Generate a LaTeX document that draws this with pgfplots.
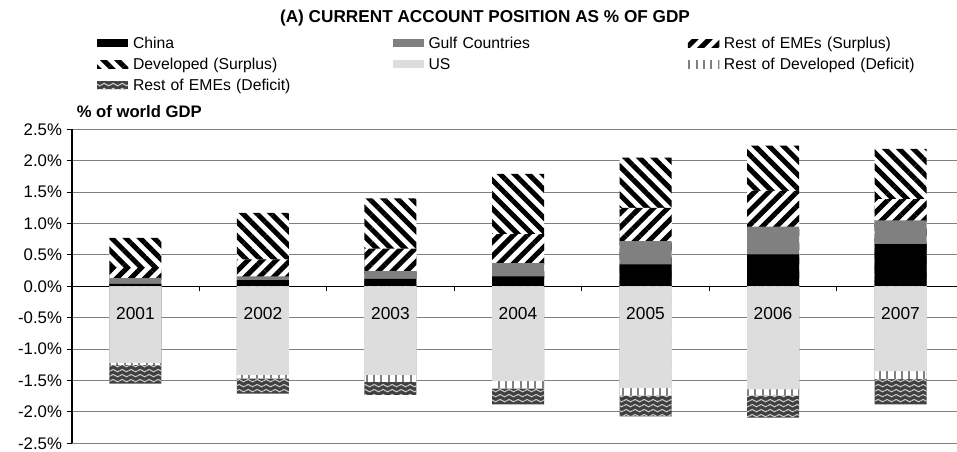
\documentclass[border=0pt]{standalone}
\usepackage{fontspec}
\setmainfont{Liberation Sans}
\usepackage{pgfplots}
\usepackage{pgfplotstable}
\pgfplotsset{compat=1.18}
\usetikzlibrary{patterns.meta}
\definecolor{gulf}{HTML}{808080}
\definecolor{usgray}{HTML}{DDDDDD}
\definecolor{emedark}{HTML}{404040}
\definecolor{emewave}{HTML}{C8C8C8}
\definecolor{gridc}{HTML}{808080}

% wavy texture for Rest of EMEs (Deficit)
\tikzdeclarepattern{
  name=wave,
  type=uncolored,
  bounding box={(0pt,-2pt) and (7pt,2pt)},
  tile size={(7pt,4pt)},
  code={
    \draw[line width=0.9pt] (0pt,0pt) sin (1.75pt,1pt) cos (3.5pt,0pt) sin (5.25pt,-1pt) cos (7pt,0pt);
  }
}

% cumulative levels (% of world GDP) read at the top / bottom of each segment, 2001..2007
\pgfplotstableread{
yr china gulf emes dev us restdev emed
0 0.04 0.13 0.29 0.77 -1.22 -1.25 -1.55
1 0.10 0.16 0.43 1.17 -1.41 -1.47 -1.71
2 0.12 0.24 0.60 1.40 -1.41 -1.52 -1.73
3 0.16 0.37 0.83 1.79 -1.51 -1.63 -1.88
4 0.35 0.72 1.25 2.05 -1.62 -1.74 -2.07
5 0.51 0.95 1.52 2.24 -1.64 -1.74 -2.09
6 0.67 1.05 1.39 2.19 -1.35 -1.48 -1.88
}\cadata

\pgfplotsset{
  sw/.style={legend image code/.code={\fill[##1] (0pt,-3.1pt) rectangle (23.5pt,3.1pt);}},
}
\tikzset{
  chinaS/.style={draw=none, fill=black},
  gulfS/.style={draw=none, fill=gulf},
  emesS/.style={draw=none, fill=white, postaction={pattern={Lines[angle=45,distance=7.5pt,line width=3.75pt]}}},
  devS/.style={draw=none, fill=white, postaction={pattern={Lines[angle=-45,distance=7.5pt,line width=3.75pt]}}},
  usS/.style={draw=none, fill=usgray},
  restdevS/.style={draw=none, fill=white, postaction={pattern={Lines[angle=90,distance=5.5pt,line width=1.5pt]}, pattern color=gulf}},
  emedS/.style={draw=none, fill=emedark, postaction={pattern=wave, pattern color=emewave}},
  yrlab/.style={font=\fontsize{13}{15}\selectfont, anchor=base, inner sep=0pt},
}

\begin{document}
\begin{tikzpicture}
\begin{axis}[
  name=ax,
  scale only axis,
  width=664pt, height=235.5pt,
  ybar, bar width=39pt, bar shift=0pt,
  xmin=-0.5, xmax=6.443,
  ymin=-2.5, ymax=2.5,
  ytick={-2.5,-2,...,2.5},
  yticklabel={\pgfmathprintnumber[fixed,fixed zerofill,precision=1]{\tick}\%},
  /pgf/number format/assume math mode=true,
  yticklabel style={font=\fontsize{12.6}{14}\selectfont},
  axis y line=left,
  axis x line=middle,
  hide obscured x ticks=false,
  hide obscured y ticks=false,
  x axis line style={-, black, line width=1pt},
  y axis line style={-, black, line width=1.3pt},
  tick align=outside,
  major tick length=3.75pt,
  tick style={black, line width=0.7pt},
  xtick={0.5,1.5,...,5.5},
  xticklabels={},
  ymajorgrids,
  grid style={gridc, line width=0.7pt},
  title={(A) CURRENT ACCOUNT POSITION AS \% OF GDP},
  every axis title/.style={at={(axis description cs:0,1)}, anchor=base, xshift=310pt, yshift=80pt,
    inner sep=0pt, font=\bfseries\fontsize{12.9}{15}\selectfont},
  ylabel={\% of world GDP},
  every axis y label/.style={at={(axis description cs:0,1)}, anchor=base west, xshift=3.6pt, yshift=9pt,
    inner sep=0pt, font=\bfseries\fontsize{12.5}{15}\selectfont},
  legend columns=3,
  legend cell align=left,
  legend style={at={(axis description cs:0,1)}, anchor=north west, xshift=19pt, yshift=70.75pt,
    draw=none, fill=none, inner sep=0pt, outer sep=0pt, row sep=3.25pt,
    /tikz/every odd column/.append style={column sep=3.5pt},
    nodes={text width=194.6pt, align=left, inner sep=0pt, text height=10pt, text depth=2.5pt,
      font=\fontsize{11.8}{14}\selectfont}},
]
\addlegendimage{sw, chinaS}\addlegendentry{China}
\addlegendimage{sw, gulfS}\addlegendentry{Gulf Countries}
\addlegendimage{sw, emesS}\addlegendentry{Rest of EMEs (Surplus)}
\addlegendimage{sw, devS}\addlegendentry{Developed (Surplus)}
\addlegendimage{sw, usS}\addlegendentry{US}
\addlegendimage{sw, restdevS}\addlegendentry{Rest of Developed (Deficit)}
\addlegendimage{sw, emedS}\addlegendentry{Rest of EMEs (Deficit)}
% segments drawn from the outermost level inwards
\addplot[devS, forget plot] table[x=yr,y=dev]{\cadata};
\addplot[emesS, forget plot] table[x=yr,y=emes]{\cadata};
\addplot[gulfS, forget plot] table[x=yr,y=gulf]{\cadata};
\addplot[chinaS, forget plot] table[x=yr,y=china]{\cadata};
\addplot[emedS, forget plot] table[x=yr,y=emed]{\cadata};
\addplot[restdevS, forget plot] table[x=yr,y=restdev]{\cadata};
\addplot[usS, forget plot] table[x=yr,y=us]{\cadata};
% year names inside the US segment
\node[yrlab] at (axis cs:0,-0.521) {2001};
\node[yrlab] at (axis cs:1,-0.521) {2002};
\node[yrlab] at (axis cs:2,-0.521) {2003};
\node[yrlab] at (axis cs:3,-0.521) {2004};
\node[yrlab] at (axis cs:4,-0.521) {2005};
\node[yrlab] at (axis cs:5,-0.521) {2006};
\node[yrlab] at (axis cs:6,-0.521) {2007};
\end{axis}
\pgfresetboundingbox
\path[use as bounding box] ([xshift=-53.8pt,yshift=-6.2pt]ax.south west) rectangle ([yshift=97pt]ax.north east);
\end{tikzpicture}
\end{document}
